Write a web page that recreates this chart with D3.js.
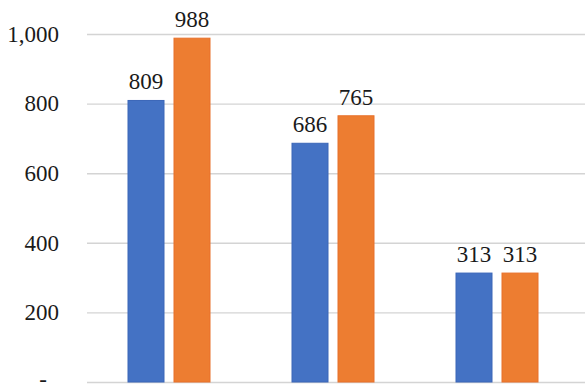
<!DOCTYPE html>
<html lang="en">
<head>
  <meta charset="UTF-8">
  <title>Grouped bars</title>
  <script src="https://d3js.org/d3.v7.min.js"></script>
  <style>
    body { margin: 0; background: #fff; }
    svg text { font-family: "Liberation Serif", "Times New Roman", serif; }
  </style>
</head>
<body>
  <div id="chart"></div>
  <script>
    const categories = ["Group 1", "Group 2", "Group 3"];
    const seriesNames = ["Series 1", "Series 2"];
    const series1 = [809, 686, 313];
    const series2 = [988, 765, 313];
    const yTicks = [0, 200, 400, 600, 800, 1000];

    const width = 585, height = 390;
    const plot = { left: 87, right: 579, top: 34, bottom: 382 };

    const svg = d3.select("#chart").append("svg")
      .attr("width", width)
      .attr("height", height);

    const x = d3.scaleBand()
      .domain(categories)
      .range([plot.left, plot.right]);

    const barW = 36, gap = 10;
    const x1 = d3.scaleBand()
      .domain(seriesNames)
      .range([0, barW * 2 + gap])
      .paddingInner(gap / (barW + gap));

    const y = d3.scaleLinear()
      .domain([0, 1000])
      .range([plot.bottom, plot.top]);

    // gridlines + tick labels
    const yAxis = d3.axisLeft(y)
      .tickValues(yTicks)
      .tickSize(-(width - plot.left))
      .tickPadding(28)
      .tickFormat(d => d === 0 ? "-" : d3.format(",")(d));

    const gy = svg.append("g")
      .attr("transform", `translate(${plot.left},0)`)
      .call(yAxis)
      .attr("font-family", null);
    gy.select(".domain").remove();
    gy.selectAll(".tick line").attr("stroke", "#d4d4d4").attr("stroke-width", 1.4);
    gy.selectAll(".tick text")
      .attr("fill", "#1a1a1a")
      .style("font-size", "23px")
      .attr("dx", d => d === 0 ? -12 : 0)
      .attr("dy", d => d === 0 ? "0.2em" : "0.32em");

    const colors = ["#4472c4", "#ed7d31"];
    const strokes = ["#3a66b8", "#e8702a"];
    const rows = categories.map((c, i) => ({ cat: c, values: [series1[i], series2[i]] }));

    const groups = svg.selectAll(".grp")
      .data(rows)
      .enter().append("g")
      .attr("class", "grp")
      .attr("transform", d => `translate(${x(d.cat) + x.bandwidth() / 2 - (barW * 2 + gap) / 2},0)`);

    groups.selectAll("rect")
      .data(d => d.values.map((v, j) => ({ name: seriesNames[j], v, j })))
      .enter().append("rect")
      .attr("x", d => x1(d.name))
      .attr("width", x1.bandwidth())
      .attr("y", d => y(d.v))
      .attr("height", d => y(0) - y(d.v))
      .attr("fill", d => colors[d.j])
      .attr("stroke", d => strokes[d.j])
      .attr("stroke-width", 1);

    groups.selectAll("text")
      .data(d => d.values.map((v, j) => ({ name: seriesNames[j], v, j })))
      .enter().append("text")
      .attr("x", d => x1(d.name) + x1.bandwidth() / 2)
      .attr("y", d => y(d.v) - 11)
      .attr("text-anchor", "middle")
      .attr("fill", "#1a1a1a")
      .style("font-size", "23px")
      .text(d => d3.format(",")(d.v));
  </script>
</body>
</html>
